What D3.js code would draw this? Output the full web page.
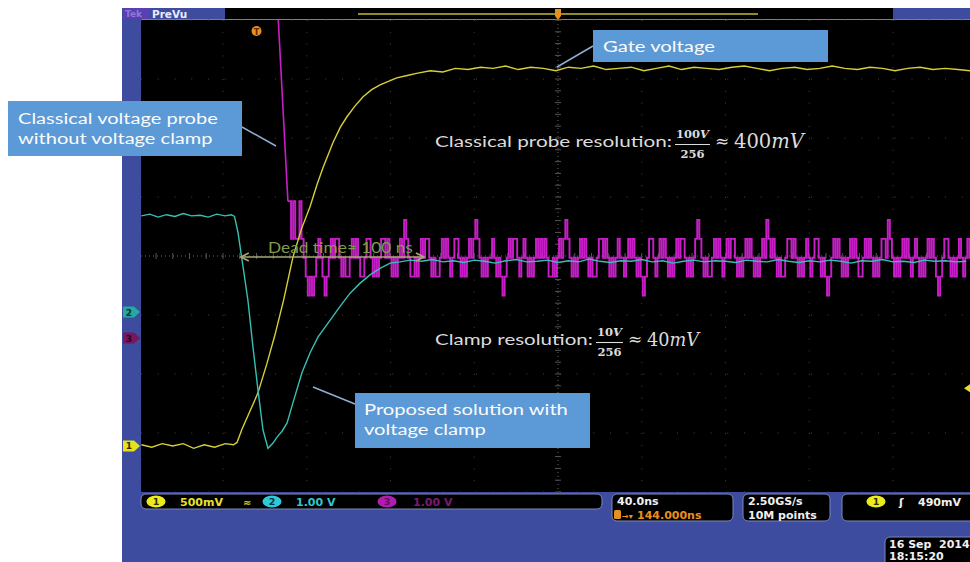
<!DOCTYPE html>
<html><head><meta charset="utf-8">
<script src="https://cdn.jsdelivr.net/npm/d3@7"></script>
<style>html,body{margin:0;padding:0;background:#fff}svg{display:block}</style>
</head><body>
<svg id="c" width="970" height="562"></svg>
<script>
// ---------------- DATA ----------------
const nsPerDiv = 40;                       // horizontal 40.0 ns/div
const triggerOffsetNs = -144;              // trigger position (144.000 ns)
const ch1 = {name:"1", scale:0.5, pos:-3.22};   // yellow, 500 mV/div
const ch2 = {name:"2", scale:1.0, pos:-0.95};   // cyan, 1.00 V/div
const ch3 = {name:"3", scale:1.0, pos:-1.39};   // magenta, 1.00 V/div
const triggerLevelV = 0.49;

// Gate voltage (ch1) [ns, V]
const gatePoints = [[-199,0.01],[-194,-0.01],[-189,0.02],[-184,0.00],[-179,0.02],[-174,-0.02],[-169,0.01],
 [-164,-0.01],[-159,0.02],[-155,0.01],[-153.3,0.03],[-151,0.14],[-148,0.26],[-145.5,0.36],[-143.3,0.45],
 [-139,0.70],[-135.2,0.94],[-131,1.24],[-126.6,1.60],[-122.5,1.84],[-118.4,2.03],[-115,2.22],[-112.2,2.36],
 [-107.5,2.57],[-104,2.70],[-100.8,2.79],[-97,2.88],[-93.1,2.96],[-89,3.02],[-85,3.06],[-81,3.09],[-77,3.12],
 [-72,3.14],[-67,3.16],[-61,3.18],[-55,3.17],[-49,3.20],[-43,3.19],[-37,3.21]];
const gateTailT0 = -31, gateTailDt = 6;
const gateTail = [3.20,3.22,3.19,3.21,3.20,3.18,3.21,3.20,3.22,3.19,3.20,3.21,3.18,3.20,3.22,3.19,3.21,3.20,
 3.19,3.21,3.22,3.20,3.18,3.20,3.21,3.19,3.20,3.22,3.20,3.19,3.21,3.20,3.18,3.20,3.21,3.19,3.20,3.19,3.18];

// Proposed solution with voltage clamp (ch2) [ns, V]
const clampPoints = [[-199,1.63],[-195,1.66],[-191,1.61],[-187,1.65],[-183,1.62],[-179,1.67],[-175,1.63],
 [-171,1.64],[-167,1.61],[-163,1.66],[-159,1.63],[-156,1.65],[-154.5,1.62],[-152.8,1.34],[-150.4,0.76],
 [-148.1,0.20],[-145.7,-0.59],[-143.3,-1.32],[-140.9,-2.00],[-138.5,-2.31],[-136.1,-2.22],[-134.2,-2.12],
 [-131.8,-2.02],[-129.4,-1.88],[-126.6,-1.54],[-122.3,-1.03],[-118.4,-0.69],[-114.6,-0.42],[-108.9,-0.14],
 [-104,0.10],[-99.3,0.32],[-94.5,0.49],[-89.8,0.63],[-85,0.74],[-80.2,0.83],[-75.5,0.85],[-70.7,0.88],
 [-65,0.86],[-60,0.89],[-55,0.85]];
const clampTailT0 = -50, clampTailDt = 5;
const clampTail = [0.87,0.84,0.88,0.86,0.83,0.87,0.89,0.85,0.86,0.88,0.84,0.87,0.85,0.90,0.86,0.84,0.87,0.86,
 0.89,0.85,0.87,0.83,0.86,0.88,0.85,0.87,0.86,0.84,0.88,0.86,0.85,0.89,0.86,0.84,0.87,0.85,0.88,0.86,0.83,0.87,
 0.86,0.89,0.85,0.86,0.84,0.88,0.86,0.87,0.85,0.86];

// Classical voltage probe without clamp (ch3): falling edge [ns, V] then quantized 1 ns samples (level codes)
const classicEdge = [[-134.5,6.0],[-129,2.32]];
const classicLevels = [0.72,1.04,1.36,1.68,2.00,2.32];
const classicT0 = -129, classicDt = 1;
const classicCodes = [
 5,5,3,5,3,3,5,3,2,1,0,1,0,1,2,3,2,1,0,1,
 2,3,2,3,3,2,1,2,1,1,2,3,2,3,2,1,1,2,3,3,
 2,1,2,1,2,3,3,2,3,2,1,2,1,2,3,2,4,3,2,1,
 1,2,1,2,3,2,3,3,2,1,2,1,1,2,3,2,3,2,1,2,
 3,3,2,1,2,1,2,3,2,3,4,3,2,1,2,1,2,2,3,2,
 1,2,1,0,1,2,3,2,3,3,2,1,2,3,2,1,2,1,2,3,
 2,3,2,3,2,1,1,2,1,2,3,2,3,4,3,2,1,2,1,2,
 3,2,3,2,1,2,1,1,2,3,3,2,3,2,1,2,1,2,3,2,
 2,1,2,3,2,3,2,1,2,1,0,1,2,3,3,2,1,2,3,2,
 3,2,1,2,1,2,3,2,3,3,2,1,2,1,2,3,4,3,2,1,
 2,1,1,2,3,2,3,2,1,2,3,2,3,3,2,1,2,1,2,3,
 2,3,2,1,2,1,2,3,2,4,3,2,3,2,1,2,1,1,2,3,
 3,2,3,2,1,2,1,2,3,2,1,2,3,3,2,1,2,1,0,1,
 2,3,2,3,2,1,2,1,2,3,2,3,2,1,1,2,3,2,3,2,
 1,2,1,2,3,3,2,4,3,2,1,2,1,2,3,2,3,2,1,2,
 3,2,1,2,1,2,3,2,3,2,1,0,1,2,3,3,2,1,2,1,
 2,3,2,1,2,3,2,3,2];

// Texts
const statusCh = [{ch:"1", text:"500mV"},{ch:"2", text:"1.00 V"},{ch:"3", text:"1.00 V"}];
const timebaseText = ["40.0ns", "144.000ns"];
const acqText = ["2.50GS/s", "10M points"];
const trigText = "490mV";
const dateText = ["16 Sep  2014", "18:15:20"];
const calloutGate = ["Gate voltage"];
const calloutClassic = ["Classical voltage probe", "without voltage clamp"];
const calloutClamp = ["Proposed solution with", "voltage clamp"];
const deadTimeLabel = "Dead time\u2248 100 ns";
const resClassic = {label:"Classical probe resolution:", num:"100", den:"256", result:"400"};
const resClamp = {label:"Clamp resolution:", num:"10", den:"256", result:"40"};

// ---------------- DRAW ----------------
const svg = d3.select("#c");
const C = {frame:"#3d4c9e", yel:"#d6d036", cyan:"#36c0b4", mag:"#c81ec8", box:"#5b9ad6", boxLine:"#8eaed6",
  ui:"'DejaVu Sans', sans-serif", ppt:"Lato, 'Open Sans', sans-serif", math:"'DejaVu Serif', serif"};

// horizontally stretched text (the screenshot is stretched): keeps glyph height, matches width
function wideText(parent, xx, yy, lines, fs, w0, lh, col){
  const t = parent.append("text").attr("font-family",C.ppt).attr("font-size",fs).attr("fill",col);
  lines.forEach((l,i)=>t.append("tspan").attr("x",0).attr("y",i*lh).text(l));
  const first = t.select("tspan").node().getComputedTextLength();
  t.attr("transform",`translate(${xx},${yy}) scale(${w0/first},1)`);
  return t;
}

const x = d3.scaleLinear().domain([-5*nsPerDiv, 5*nsPerDiv]).range([139.25, 976.75]);
const yDiv = d3.scaleLinear().domain([-4,4]).range([492,20]);
const yCh = ch => v => yDiv(v/ch.scale + ch.pos);

svg.append("rect").attr("width",970).attr("height",562).attr("fill","#fff");
svg.append("rect").attr("x",122).attr("y",8).attr("width",848).attr("height",554).attr("fill",C.frame);
svg.append("rect").attr("x",141).attr("y",20).attr("width",829).attr("height",472).attr("fill","#000");

// top bar
svg.append("rect").attr("x",225).attr("y",8).attr("width",668).attr("height",11).attr("fill","#000");
svg.append("rect").attr("x",123).attr("y",8).attr("width",27).attr("height",11).attr("fill","#5a3fb0");
svg.append("text").attr("x",125).attr("y",17).attr("font-family",C.ui).attr("font-size",9).attr("font-weight","bold").attr("fill","#8d7ad8").text("Tek");
svg.append("text").attr("x",152).attr("y",17.5).attr("font-family",C.ui).attr("font-size",10.5).attr("font-weight","bold").attr("fill","#e8ecff").text("PreVu");
svg.append("line").attr("x1",358).attr("x2",758).attr("y1",14).attr("y2",14).attr("stroke","#8f8a2a").attr("stroke-width",2);
svg.append("line").attr("x1",141).attr("x2",970).attr("y1",19.5).attr("y2",19.5).attr("stroke","#6f7fb8").attr("stroke-width",1.2);
svg.append("path").attr("d",`M${x(0)-3},9 h6 v7 l-3,4 l-3,-4 z`).attr("fill","#e8901e");

// graticule
const g = svg.append("g");
const xTicks = d3.range(-5*nsPerDiv, 5*nsPerDiv+1, nsPerDiv);
const yTicks = d3.range(-4,5);
g.selectAll("line.v").data(xTicks).join("line").attr("x1",d=>x(d)).attr("x2",d=>x(d)).attr("y1",20).attr("y2",492)
  .attr("stroke",d=>d===0?"#666":"#444").attr("stroke-width",1).attr("stroke-dasharray",d=>d===0?"1 3":"1 10.8");
g.selectAll("line.h").data(yTicks).join("line").attr("y1",d=>yDiv(d)).attr("y2",d=>yDiv(d)).attr("x1",141).attr("x2",970)
  .attr("stroke",d=>d===0?"#666":"#444").attr("stroke-width",1).attr("stroke-dasharray",d=>d===0?"1 3":"1 15.75");
const minorX = d3.range(-5*nsPerDiv, 5*nsPerDiv+0.1, nsPerDiv/5);
g.selectAll("line.mx").data(minorX).join("line").attr("x1",d=>x(d)).attr("x2",d=>x(d)).attr("y1",yDiv(0)-3).attr("y2",yDiv(0)+3).attr("stroke","#555");
const minorY = d3.range(-4,4.01,0.2);
g.selectAll("line.my").data(minorY).join("line").attr("y1",d=>yDiv(d)).attr("y2",d=>yDiv(d)).attr("x1",x(0)-3).attr("x2",x(0)+3).attr("stroke","#555");

// clip
svg.append("clipPath").attr("id","clip").append("rect").attr("x",141).attr("y",20).attr("width",829).attr("height",472);
const tr = svg.append("g").attr("clip-path","url(#clip)");

// magenta trace
const y3 = yCh(ch3);
tr.append("path").datum(classicEdge).attr("fill","none").attr("stroke",C.mag).attr("stroke-width",1.6)
  .attr("d", d3.line().x(d=>x(d[0])).y(d=>y3(d[1])));
const classicSamples = classicCodes.map((c,i)=>[classicT0+i*classicDt, classicLevels[c]]);
tr.append("path").datum(classicSamples).attr("fill","none").attr("stroke",C.mag).attr("stroke-width",1.9)
  .attr("d", d3.line().curve(d3.curveStep).x(d=>x(d[0])).y(d=>y3(d[1])));

// yellow trace
const y1 = yCh(ch1);
const gateAll = gatePoints.concat(gateTail.map((v,i)=>[gateTailT0+i*gateTailDt, v]));
tr.append("path").datum(gateAll).attr("fill","none").attr("stroke",C.yel).attr("stroke-width",1.4)
  .attr("d", d3.line().x(d=>x(d[0])).y(d=>y1(d[1])));

// cyan trace
const y2 = yCh(ch2);
const clampAll = clampPoints.concat(clampTail.map((v,i)=>[clampTailT0+i*clampTailDt, v]));
tr.append("path").datum(clampAll).attr("fill","none").attr("stroke",C.cyan).attr("stroke-width",1.4)
  .attr("d", d3.line().x(d=>x(d[0])).y(d=>y2(d[1])));

// trigger T marker
svg.append("circle").attr("cx",x(triggerOffsetNs)).attr("cy",31).attr("r",5).attr("fill","#e8901e");
svg.append("text").attr("x",x(triggerOffsetNs)).attr("y",34.5).attr("text-anchor","middle").attr("font-family",C.ui)
  .attr("font-size",8).attr("font-weight","bold").attr("fill","#5a2c00").text("T");
svg.append("path").attr("d",`M970,${y1(triggerLevelV)-4} l-6,4 l6,4 z`).attr("fill","#e8e020");

// channel markers
function chMarker(ch, fill, txt){
  const yy = yCh(ch)(0);
  svg.append("path").attr("d",`M123,${yy-5.5} h11 l6,5.5 l-6,5.5 h-11 z`).attr("fill",fill);
  svg.append("text").attr("x",129).attr("y",yy+3.5).attr("text-anchor","middle").attr("font-family",C.ui)
    .attr("font-size",9).attr("font-weight","bold").attr("fill",txt).text(ch.name);
}
chMarker(ch2,"#27a8a0","#06302c");
chMarker(ch3,"#7a1560","#2a0020");
chMarker(ch1,"#e6e020","#303000");

// dead time arrow
const ay = yDiv(0)+1;
const ax1 = x(-151.5), ax2 = x(-64);
const arrowCol = "#a9a872";
svg.append("line").attr("x1",ax1).attr("x2",ax2).attr("y1",ay).attr("y2",ay).attr("stroke",arrowCol).attr("stroke-width",1.6);
svg.append("path").attr("d",`M${ax1+8},${ay-4} L${ax1},${ay} L${ax1+8},${ay+4}`).attr("fill","none").attr("stroke",arrowCol).attr("stroke-width",1.6);
svg.append("path").attr("d",`M${ax2-8},${ay-4} L${ax2},${ay} L${ax2-8},${ay+4}`).attr("fill","none").attr("stroke",arrowCol).attr("stroke-width",1.6);
wideText(svg, 268, 253, [deadTimeLabel], 15, 145, 0, "#7f9c4c");

// resolution texts
function resText(r, xx, yy, labelW, resW){
  const col = "#dcdcdc";
  wideText(svg, xx, yy, [r.label], 15.5, labelW, 0, col);
  const fx = xx + labelW + 3;
  const barY = yy - 2.5;
  const numT = svg.append("text").attr("font-family",C.math).attr("font-size",11.5).attr("font-weight","bold").attr("fill",col).attr("y",barY-7);
  numT.append("tspan").text(r.num);
  numT.append("tspan").attr("font-style","italic").text("V");
  const nw = numT.node().getComputedTextLength();
  const denT = svg.append("text").attr("font-family",C.math).attr("font-size",11.5).attr("font-weight","bold").attr("fill",col).attr("y",barY+13).text(r.den);
  const dw = denT.node().getComputedTextLength();
  const fw = Math.max(nw,dw)+2;
  numT.attr("x",fx+(fw-nw)/2); denT.attr("x",fx+(fw-dw)/2);
  svg.append("line").attr("x1",fx).attr("x2",fx+fw).attr("y1",barY).attr("y2",barY).attr("stroke",col).attr("stroke-width",1.1);
  svg.append("text").attr("x",fx+fw+5).attr("y",yy).attr("font-family",C.math).attr("font-size",17).attr("fill",col).text("\u2248");
  const rt = svg.append("text").attr("x",fx+fw+24).attr("y",yy+1).attr("font-family",C.math).attr("font-size",18).attr("fill",col);
  rt.append("tspan").text(r.result);
  rt.append("tspan").attr("font-style","italic").text("mV");
  const rw = rt.node().getComputedTextLength();
  rt.attr("font-size", 18*resW/rw);
}
resText(resClassic, 435, 147, 237, 70);
resText(resClamp, 435, 345, 158, 52);

// callouts
function callout(lines, bx, by, bw, bh, w0, lx1, ly1, lx2, ly2, tx, ty0, lh){
  svg.append("line").attr("x1",lx1).attr("y1",ly1).attr("x2",lx2).attr("y2",ly2).attr("stroke",C.boxLine).attr("stroke-width",1.5);
  svg.append("rect").attr("x",bx).attr("y",by).attr("width",bw).attr("height",bh).attr("fill",C.box);
  wideText(svg, tx, ty0, lines, 16, w0, lh, "#fbfbfb");
}
callout(calloutGate, 593,30,235,32, 112, 593,46, 557,67, 603,52, 0);
callout(calloutClassic, 8,101,234,55, 200, 242,127, 276,146, 18,123.5, 20.5);
callout(calloutClamp, 355,393,235,55, 204, 355,404, 313,387, 364,414.5, 21);

// ---------- status bar ----------
function box(bx,by,bw,bh){ svg.append("rect").attr("x",bx).attr("y",by).attr("width",bw).attr("height",bh).attr("rx",5)
  .attr("fill","#000").attr("stroke","#7b88bd").attr("stroke-width",1); }
function badge(cx,cy,fill,txt,tcol){
  svg.append("ellipse").attr("cx",cx).attr("cy",cy).attr("rx",9.5).attr("ry",6).attr("fill",fill);
  svg.append("text").attr("x",cx).attr("y",cy+3.5).attr("text-anchor","middle").attr("font-family",C.ui).attr("font-size",9.5)
    .attr("font-weight","bold").attr("fill",tcol).text(txt);
}
function uiText(xx,yy,t,col){ return svg.append("text").attr("x",xx).attr("y",yy).attr("font-family",C.ui).attr("font-size",11)
  .attr("font-weight","bold").attr("fill",col).text(t); }
box(141,494,461,15);
badge(156,501.5,"#ecec1c",statusCh[0].ch,"#303000"); uiText(180,506,statusCh[0].text,"#e6e030");
uiText(243,506,"\u2248","#d8d030").attr("font-size",10);
badge(272,501.5,"#2ec8d8",statusCh[1].ch,"#003840"); uiText(296,506,statusCh[1].text,"#34c4d0");
badge(387,501.5,"#b01cb0",statusCh[2].ch,"#60105a"); uiText(413,506,statusCh[2].text,"#7a1a74");

box(612,494,121,27);
uiText(617,505,timebaseText[0],"#f0f0f0");
svg.append("rect").attr("x",614).attr("y",510).attr("width",7).attr("height",9).attr("rx",1.5).attr("fill","#e8901e");
uiText(622,518.5,"\u2192\u25BE","#e8901e").attr("font-size",8);
uiText(637,518.5,timebaseText[1],"#e8901e");

box(743,494,87,27);
uiText(748,505,acqText[0],"#f0f0f0");
uiText(748,518.5,acqText[1],"#f0f0f0");

box(842,494,140,27);
badge(876,501.5,"#ecec1c",ch1.name,"#303000");
uiText(899,506,"\u0283","#f0f0f0");
uiText(918,506,trigText,"#f0f0f0");

box(885,537,95,30);
uiText(889,548,dateText[0],"#f0f0f0").style("white-space","pre");
uiText(889,559.5,dateText[1],"#f0f0f0");
</script>
</body></html>
